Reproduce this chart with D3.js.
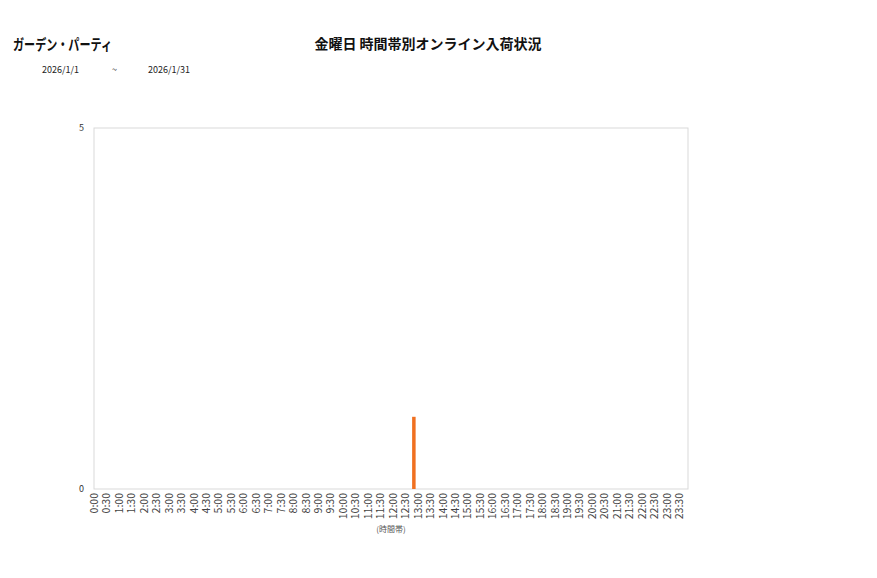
<!DOCTYPE html>
<html>
<head>
<meta charset="utf-8">
<script src="https://cdn.jsdelivr.net/npm/d3@7"></script>
<style>
  body { margin: 0; background: #fff; }
  svg { display: block; font-family: "Noto Sans CJK JP", "Noto Sans", sans-serif; }
</style>
</head>
<body>
<div id="chart"></div>
<script>
(function () {
    'use strict';

    // Chart data
    const shopName = 'ガーデン・パーティ';
    const chartTitle = '金曜日 時間帯別オンライン入荷状況';
    const dateFrom = '2026/1/1';
    const dateTo = '2026/1/31';
    const slots = [];
    for (let h = 0; h < 24; h++) {
        slots.push(h + ':00', h + ':30');
    }
    const arrivals = [0, 0, 0, 0, 0, 0, 0, 0, 0, 0, 0, 0, 0, 0, 0, 0,
        0, 0, 0, 0, 0, 0, 0, 0, 0, 0, 1, 0, 0, 0, 0, 0,
        0, 0, 0, 0, 0, 0, 0, 0, 0, 0, 0, 0, 0, 0, 0, 0];
    const yTicks = [0, 5];

    const width = 877, height = 578;
    const plot = { left: 94, right: 688, top: 128, bottom: 489 };

    const svg = d3.select('#chart').append('svg')
        .attr('width', width)
        .attr('height', height);

    // Titles
    svg.append('text')
        .attr('x', 13).attr('y', 50)
        .attr('font-size', 15).attr('font-weight', 'bold')
        .attr('textLength', 99).attr('lengthAdjust', 'spacingAndGlyphs')
        .attr('fill', '#111')
        .text(shopName);

    svg.append('text')
        .attr('x', 428).attr('y', 49)
        .attr('text-anchor', 'middle')
        .attr('font-size', 14).attr('font-weight', 'bold')
        .attr('fill', '#111')
        .text(chartTitle);

    const dateRow = svg.append('g').attr('font-size', 9).attr('fill', '#222');
    dateRow.append('text').attr('x', 42).attr('y', 73).text(dateFrom);
    dateRow.append('text').attr('x', 112).attr('y', 73).text('~');
    dateRow.append('text').attr('x', 148).attr('y', 73).text(dateTo);

    // Scales
    const x = d3.scalePoint()
        .domain(slots)
        .range([94.5, 679.5]);

    const y = d3.scaleLinear()
        .domain([0, 5])
        .range([plot.bottom, plot.top]);

    // Plot frame
    svg.append('rect')
        .attr('x', plot.left).attr('y', plot.top)
        .attr('width', plot.right - plot.left)
        .attr('height', plot.bottom - plot.top)
        .attr('fill', 'none')
        .attr('stroke', '#d9d9d9')
        .attr('stroke-width', 1);

    // Bars
    svg.append('g')
        .selectAll('rect')
        .data(arrivals.map((v, i) => ({ slot: slots[i], value: v })).filter(d => d.value > 0))
        .enter()
        .append('rect')
        .attr('x', d => x(d.slot) - 6)
        .attr('y', d => y(d.value))
        .attr('width', 3.5)
        .attr('height', d => y(0) - y(d.value))
        .attr('fill', '#f07020');

    // Y axis labels
    svg.append('g')
        .attr('font-size', 9).attr('fill', '#333')
        .selectAll('text')
        .data(yTicks)
        .enter()
        .append('text')
        .attr('x', 84)
        .attr('y', d => y(d) + 3)
        .attr('text-anchor', 'end')
        .text(d => d);

    // X axis labels (rotated)
    svg.append('g')
        .attr('font-size', 10.5).attr('fill', '#444')
        .selectAll('text')
        .data(slots)
        .enter()
        .append('text')
        .attr('transform', d => `translate(${x(d) + 3.5},493) rotate(-90)`)
        .attr('text-anchor', 'end')
        .text(d => d);

    svg.append('text')
        .attr('x', 391).attr('y', 532)
        .attr('text-anchor', 'middle')
        .attr('font-size', 8).attr('fill', '#555')
        .text('(時間帯)');
})();
</script>
</body>
</html>
